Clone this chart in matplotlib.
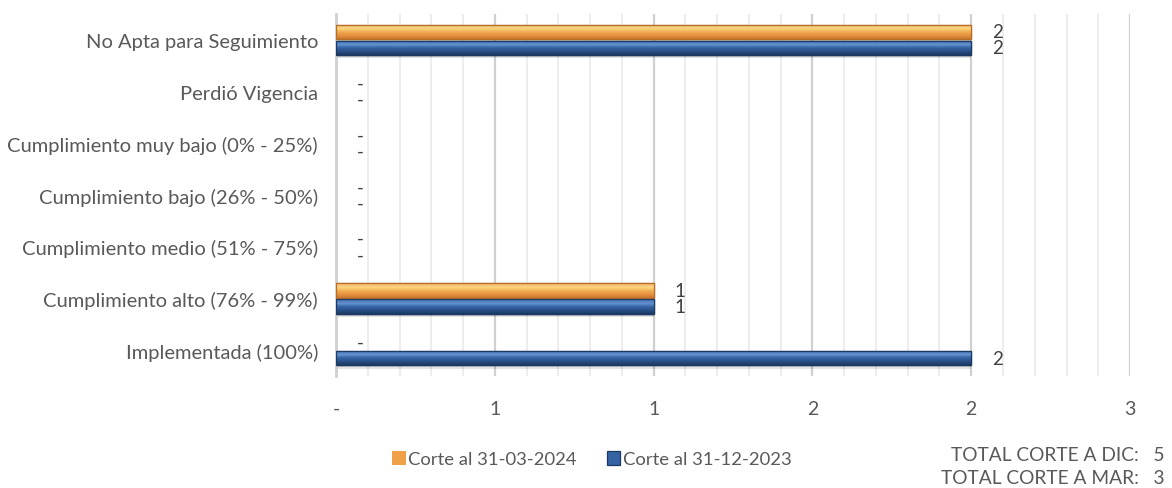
import math
import numpy as np
import matplotlib
matplotlib.use("Agg")
import matplotlib.pyplot as plt
from matplotlib.ticker import FuncFormatter, MultipleLocator
from matplotlib.colors import LinearSegmentedColormap

categories = ["Implementada (100%)", "Cumplimiento alto (76% - 99%)", "Cumplimiento medio (51% - 75%)",
              "Cumplimiento bajo (26% - 50%)", "Cumplimiento muy bajo (0% - 25%)", "Perdió Vigencia",
              "No Apta para Seguimiento"]
serie_mar = [0, 1, 0, 0, 0, 0, 2]
serie_dic = [2, 1, 0, 0, 0, 0, 2]
name_mar = "Corte al 31-03-2024"
name_dic = "Corte al 31-12-2023"
total_dic = 5
total_mar = 3

plt.rcParams['font.family'] = ['Lato', 'DejaVu Sans']
txt = "#595959"

fig = plt.figure(figsize=(11.72, 4.89), dpi=100)
ax = fig.add_axes([0.2867, 0.229, 0.9642 - 0.2867, 0.9693 - 0.229])

y = np.arange(len(categories))
h = 0.28
off = 0.155

cm_mar = LinearSegmentedColormap.from_list("mar", [(0, "#C9772F"), (0.2, "#E38E3C"), (0.5, "#F2AE55"),
                                                    (0.7, "#FBD67C"), (0.88, "#F8C27A"), (1, "#F2A860")])
cm_dic = LinearSegmentedColormap.from_list("dic", [(0, "#1C385F"), (0.2, "#264B80"), (0.5, "#3766A8"),
                                                    (0.7, "#6592CF"), (0.88, "#4E7DBE"), (1, "#3F6DAD")])
grad = np.linspace(0, 1, 64).reshape(-1, 1)

def draw(vals, yc, c, ce, cmap):
    lw = [0.9 if v else 0 for v in vals]
    # soft shadow
    for k, a in ((0.06, 0.10), (0.035, 0.10)):
        ax.barh(yc - k, vals, height=h, color="#000000", alpha=a, linewidth=0, zorder=2)
    bars = ax.barh(yc, vals, height=h, color=c, edgecolor=ce, linewidth=lw, zorder=3)
    for b, v in zip(bars, vals):
        if v == 0:
            continue
        x0, y0 = b.get_x(), b.get_y()
        im = ax.imshow(grad, cmap=cmap, aspect="auto", origin="lower",
                       extent=(x0, x0 + b.get_width(), y0, y0 + b.get_height()), zorder=3.5)
        im.set_clip_path(b)
        ax.barh(b.get_y() + b.get_height() / 2, v, height=h, color="none", edgecolor=ce,
                linewidth=0.9, zorder=4)
    return bars

b1 = draw(serie_mar, y + off, "#F0A048", "#B86E25", cm_mar)
b2 = draw(serie_dic, y - off, "#3563A3", "#1C3A63", cm_dic)

def lab(v):
    return "-" if v == 0 else f"{v:g}"

for yc, vals in ((y + off, serie_mar), (y - off, serie_dic)):
    for yy, v in zip(yc, vals):
        ax.annotate(lab(v), (v, yy), xytext=(15, 0), textcoords="offset points",
                    va="center", ha="left", fontsize=13.5, color="#404040")

ax.set_xlim(0, 2.5)
ax.set_ylim(-0.5, len(categories) - 0.5)
ax.set_yticks(y)
ax.set_yticklabels(categories, fontsize=14.5, color=txt)
ax.xaxis.set_major_locator(MultipleLocator(0.5))
ax.xaxis.set_minor_locator(MultipleLocator(0.1))
ax.xaxis.set_major_formatter(FuncFormatter(lambda x, p: "-" if abs(x) < 1e-9 else str(int(math.floor(x + 0.5)))))
ax.tick_params(axis='x', which='both', length=0, pad=17, labelsize=14, labelcolor=txt)
ax.tick_params(axis='y', length=0, pad=13)
ax.grid(axis='x', which='major', color="#D0D0D0", linewidth=1.6, zorder=0)
ax.grid(axis='x', which='minor', color="#EAEAEA", linewidth=1.2, zorder=0)
for s in ["top", "right", "bottom"]:
    ax.spines[s].set_visible(False)
ax.spines["left"].set_color("#D0D0D0")
ax.spines["left"].set_linewidth(2)

leg = fig.legend([b1, b2], [name_mar, name_dic], loc="center", bbox_to_anchor=(0.505, 0.059), ncol=2,
                 frameon=False, fontsize=13.3, handlelength=0.75, handleheight=0.75, handletextpad=0.15,
                 columnspacing=1.6)
for t in leg.get_texts():
    t.set_color(txt)

fig.text(0.994, 0.068, f"TOTAL CORTE A DIC:   {total_dic}", ha="right", va="center", fontsize=13.8, color=txt)
fig.text(0.994, 0.021, f"TOTAL CORTE A MAR:   {total_mar}", ha="right", va="center", fontsize=13.8, color=txt)

fig.savefig("out.png", dpi=100)
